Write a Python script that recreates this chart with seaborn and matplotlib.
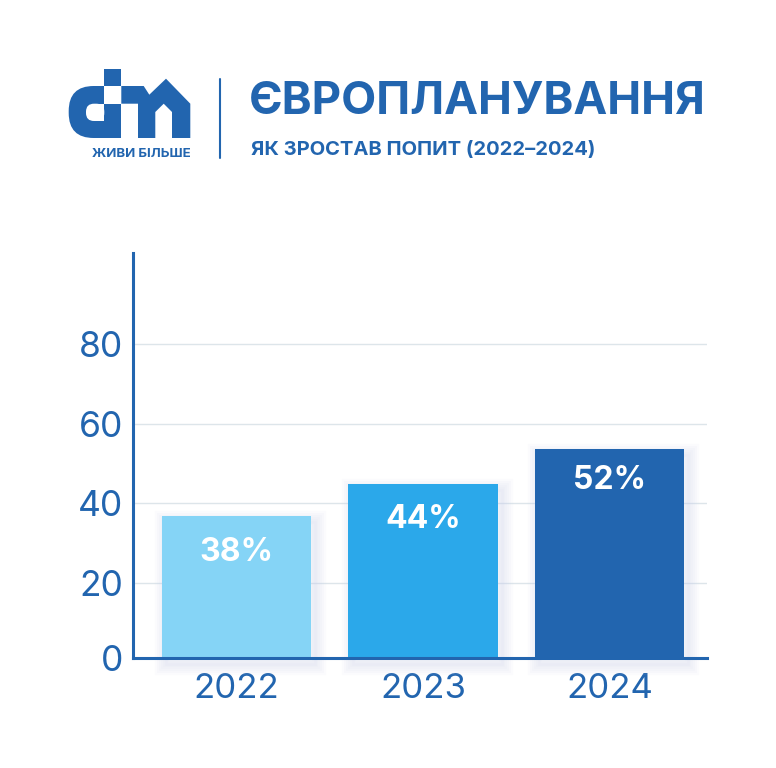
import matplotlib
matplotlib.use("Agg")
import matplotlib.pyplot as plt
import matplotlib.patheffects as pe
from matplotlib.patches import Polygon, Rectangle, FancyBboxPatch
import pandas as pd
import seaborn as sns

years = ["2022", "2023", "2024"]
bar_values = [36.8, 44.8, 53.6]
bar_labels = ["38%", "44%", "52%"]
label_heights = [27.5, 35.9, 45.6]
bar_colors = ["#85D4F6", "#2BA8EA", "#2265AF"]
y_ticks = [1.1, 20, 40, 60, 80]
y_ticklabels = ["0", "20", "40", "60", "80"]
title = "ЄВРОПЛАНУВАННЯ"
subtitle = "ЯК ЗРОСТАВ ПОПИТ (2022–2024)"
slogan = "ЖИВИ БІЛЬШЕ"

BLUE = "#2265AF"
W, H = 776, 768
Y_BOTTOM = 1.1
sns.set_theme(style="white")
plt.rcParams["font.family"] = ["Inter", "DejaVu Sans"]

fig = plt.figure(figsize=(W / 100, H / 100), dpi=100, facecolor="white")
ax = fig.add_axes([133 / W, 1 - 658 / H, (707 - 133) / W, (658 - 253) / H])
df = pd.DataFrame({"year": years, "value": bar_values})
sns.barplot(data=df, x="year", y="value", hue="year", palette=bar_colors,
            width=0.8, legend=False, saturation=1, ax=ax, zorder=3)
ax.set_xlim(-0.555, 2.523)
ax.set_ylim(Y_BOTTOM, 102.9)
shadow = [pe.SimpleLineShadow(offset=(3, -4), shadow_color="#C9CFEA", alpha=0.07, linewidth=w)
          for w in (16, 13, 10, 7, 4, 2)]
for bar, lab, ly in zip(ax.patches, bar_labels, label_heights):
    top = bar.get_height()
    bar.set_y(Y_BOTTOM)
    bar.set_height(top - Y_BOTTOM)
    bar.set_clip_on(False)
    bar.set_linewidth(0)
    bar.set_path_effects(shadow + [pe.Normal()])
    ax.text(bar.get_x() + bar.get_width() / 2, ly, lab,
            ha="center", va="center", color="white", fontsize=23, fontweight="bold", zorder=5)
ax.set_yticks(y_ticks)
ax.set_yticklabels(y_ticklabels)
ax.yaxis.grid(True, color="#DDE5EA", lw=1, zorder=0)
ax.set_axisbelow(True)
ax.tick_params(axis="y", length=0, labelsize=25.5, labelcolor=BLUE, pad=7)
ax.tick_params(axis="x", length=0, labelsize=25, labelcolor=BLUE, pad=11)
ax.set_xlabel("")
ax.set_ylabel("")
for s in ["top", "right"]:
    ax.spines[s].set_visible(False)
for s in ["left", "bottom"]:
    ax.spines[s].set_color(BLUE)
    ax.spines[s].set_linewidth(2.2)
    ax.spines[s].set_zorder(6)

# Header overlay in pixel coordinates
ov = fig.add_axes([0, 0, 1, 1], facecolor="none")
ov.set_xlim(0, W)
ov.set_ylim(H, 0)
ov.axis("off")
ov.plot([220, 220], [79, 158], color=BLUE, lw=1.5)
ov.text(249, 114.5, title, color=BLUE, fontsize=32.7, fontweight="bold", ha="left", va="baseline")
ov.text(251, 155, subtitle, color=BLUE, fontsize=14.5, fontweight="bold", ha="left", va="baseline")
ov.text(141.5, 157, slogan, color=BLUE, fontsize=9.6, fontweight="bold", ha="center", va="baseline")

# Logo
ov.add_patch(FancyBboxPatch((68.7, 86), 52, 52, boxstyle="round,pad=0,rounding_size=25", fc=BLUE, ec="none"))
ov.add_patch(Rectangle((95, 86), 26.3, 52, fc=BLUE, ec="none"))
ov.add_patch(Rectangle((104.3, 68.7), 17, 17.3, fc=BLUE, ec="none"))
ov.add_patch(Rectangle((104.3, 86), 17, 17.7, fc="white", ec="none"))
ov.add_patch(FancyBboxPatch((86, 103.7), 18.3, 17.3, boxstyle="round,pad=0,rounding_size=8", fc="white", ec="none"))
ov.add_patch(Rectangle((95, 103.7), 9.3, 17.3, fc="white", ec="none"))
ov.add_patch(Polygon([(121.3, 86), (143.7, 86), (149.3, 94.7), (166, 78.7), (190.3, 103.7), (190.3, 138),
                      (172, 138), (172, 112), (163.7, 103.7), (155.3, 112), (155.3, 138), (138, 138),
                      (138, 103.7), (121.3, 103.7)], fc=BLUE, ec="none"))
fig.savefig("out.png", dpi=100)
